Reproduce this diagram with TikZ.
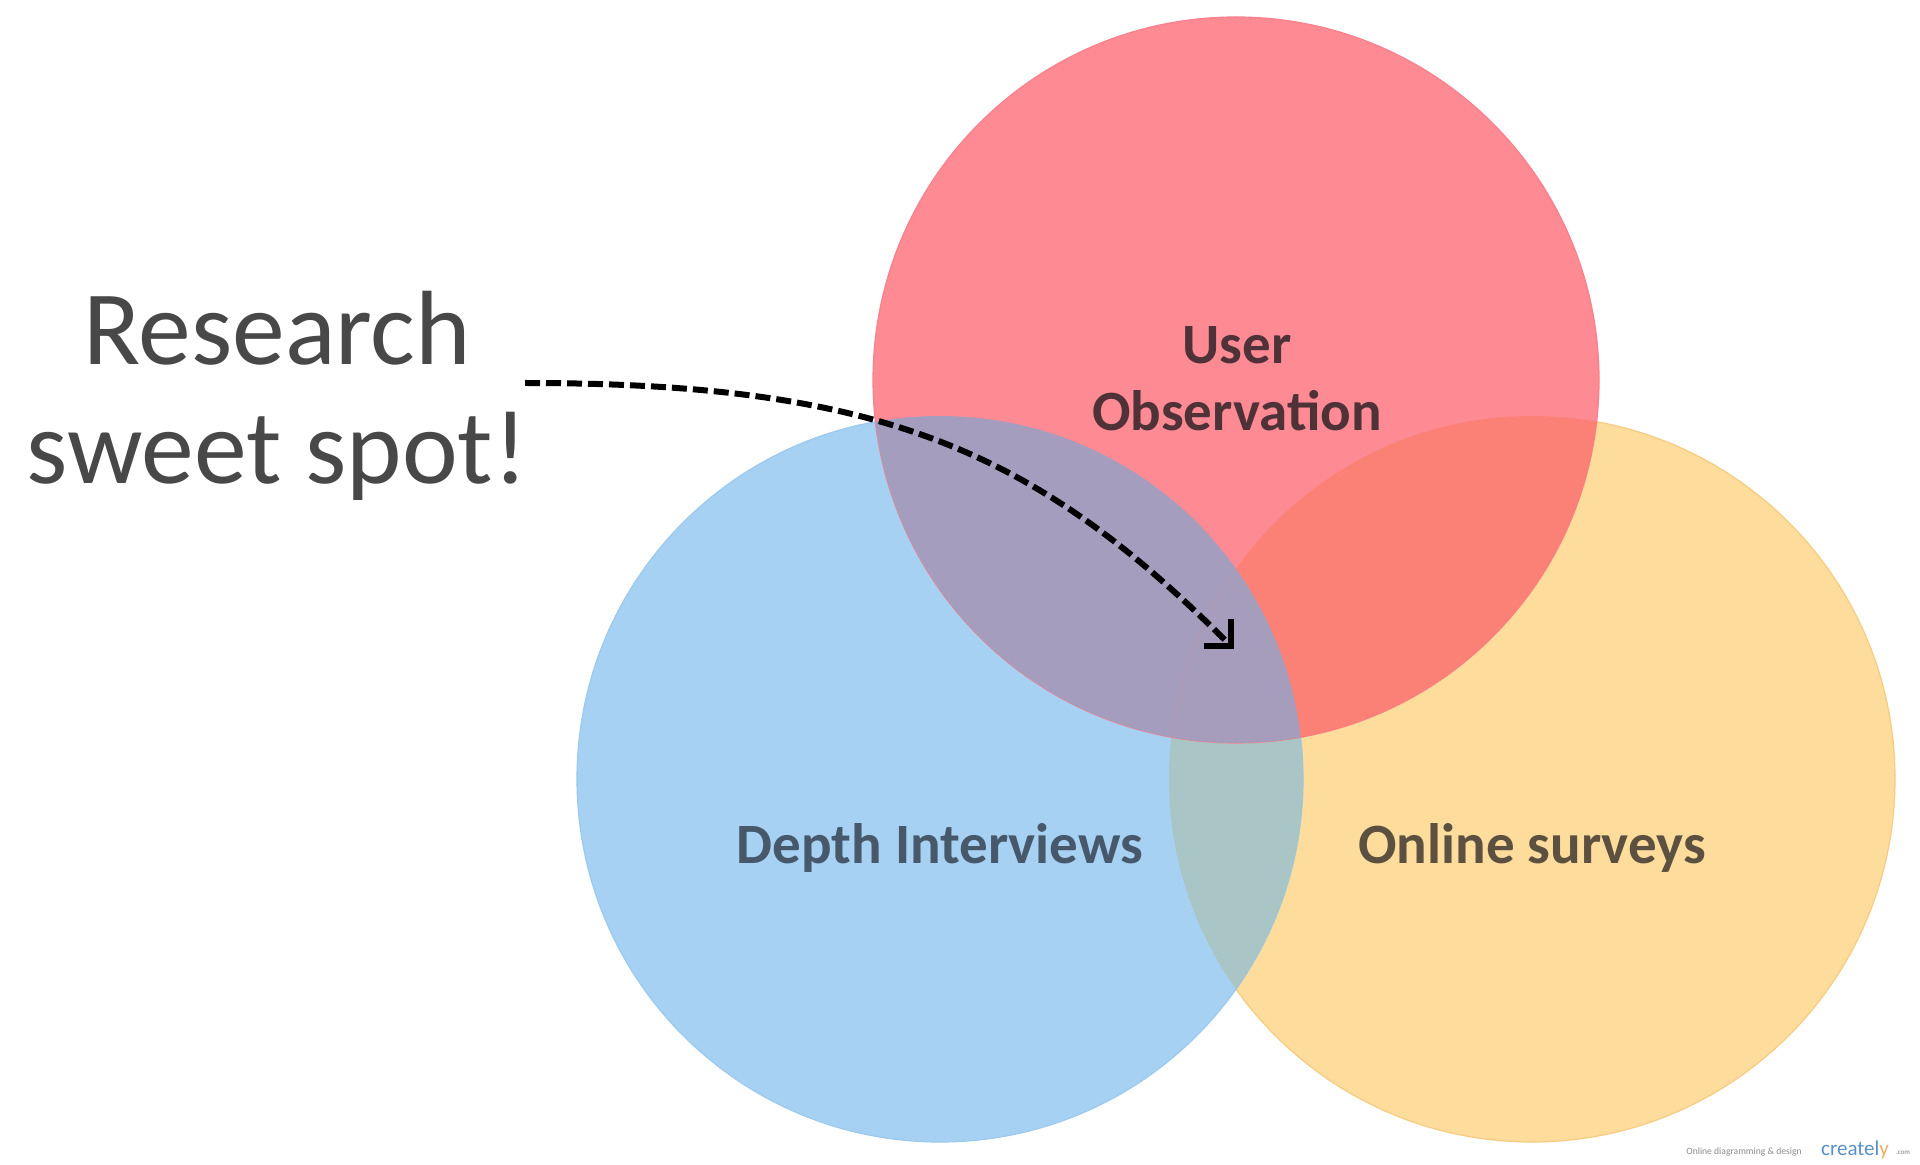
\documentclass[tikz,border=0pt]{standalone}
\usepackage{fontspec}
\setmainfont{Carlito}
\usetikzlibrary{arrows.meta}
\definecolor{redc}{HTML}{FE8A94}
\definecolor{bluec}{HTML}{A6D1F3}
\definecolor{yelc}{HTML}{FDDC9C}
\definecolor{rbc}{HTML}{A59DBE}
\definecolor{ryc}{HTML}{FB8176}
\definecolor{byc}{HTML}{A9C5C5}
\definecolor{rbyc}{HTML}{A69CBC}
\definecolor{rededge}{HTML}{F7818C}
\definecolor{blueedge}{HTML}{9CC9EE}
\definecolor{yeledge}{HTML}{F8CB82}
\definecolor{usertxt}{HTML}{4F3138}
\definecolor{depthtxt}{HTML}{46586A}
\definecolor{onlinetxt}{HTML}{5C5140}
\definecolor{bigtxt}{HTML}{484848}
\definecolor{cretxt}{HTML}{5A8FC8}
\definecolor{creytxt}{HTML}{E8B060}
\tikzset{
  venn/.style={circle,minimum size=363pt,inner sep=0pt,outer sep=0pt},
  big/.style={font=\fontsize{52.8}{60}\selectfont,text=bigtxt,anchor=base},
  lab/.style={font=\fontsize{28.5}{32}\selectfont\bfseries,anchor=base},
  wmark/.style={anchor=base,inner sep=0pt}
}
\newcommand{\cR}{(618,190) circle [radius=181.5pt]}
\newcommand{\cB}{(470,389.5) circle [radius=181.5pt]}
\newcommand{\cY}{(766,389.5) circle [radius=181.5pt]}
\begin{document}
\begin{tikzpicture}[x=1pt,y=-1pt]
\useasboundingbox[fill=white] (0,0) rectangle (960,582.5);
\node[venn,fill=yelc,draw=yeledge,line width=0.6pt] (yellow) at (766,389.5) {};
\node[venn,fill=bluec,draw=blueedge,line width=0.6pt] (blue) at (470,389.5) {};
\begin{scope}
  \clip \cB; \fill[byc] \cY;
\end{scope}
\node[venn,fill=redc,draw=rededge,line width=0.6pt] (red) at (618,190) {};
\begin{scope}
  \clip \cR; \fill[rbc] \cB; \fill[ryc] \cY;
  \clip \cB; \fill[rbyc] \cY;
\end{scope}
\node[lab,text=usertxt] (user) at (618.5,182) {User};
\node[lab,text=usertxt] (obs) at (618.5,215.5) {Observation};
\node[lab,text=depthtxt] (depth) at (470,431.5) {Depth Interviews};
\node[lab,text=onlinetxt] (online) at (766,431.5) {Online surveys};
\node[big] (res) at (138.5,182.5) {Research};
\node[big] (sweet) at (138.5,241.5) {sweet spot!};
\coordinate (start) at (262.5,191.5);
\coordinate (end) at (617,324.5);
\draw[line width=3pt,black,dash pattern=on 7.5pt off 3pt,
      -{Straight Barb[length=9.5pt,width=19pt,line width=3pt]}]
  (start) .. controls (440,191.5) and (517,224.5) .. (end);
\node[wmark,font=\fontsize{4.8}{6}\selectfont,text=black!45] (wm) at (872,577) {Online diagramming \& design};
\node[wmark,font=\fontsize{10.5}{12}\selectfont,text=cretxt] (cre) at (927.5,577.5) {createl\textcolor{creytxt}{y}};
\node[wmark,font=\fontsize{3.5}{5}\selectfont,text=black!50] (com) at (951.5,577) {.com};
\end{tikzpicture}
\end{document}
